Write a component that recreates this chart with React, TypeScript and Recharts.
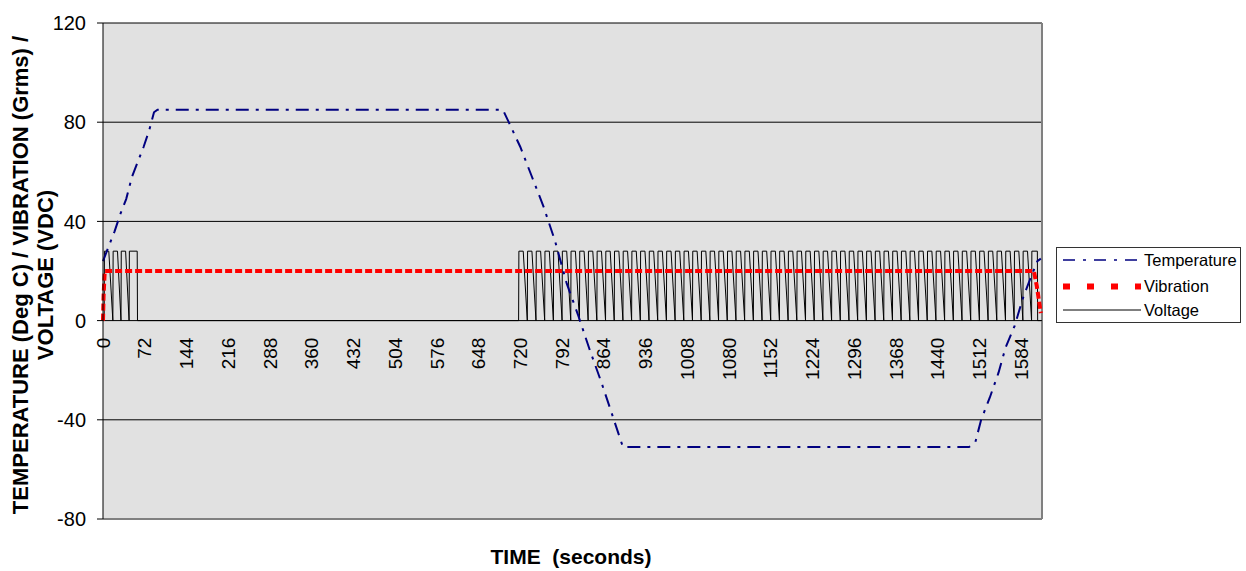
import React from "react";
import { LineChart, Line, XAxis, YAxis, CartesianGrid, ReferenceLine } from "recharts";

// chart size and plot box
const W = 1246;
const H = 571;
const TOP = 23;
const BOTTOM = 51;
const RIGHT = 204;
const Y_MIN = -80;
const Y_MAX = 120;
const T_MAX = 1620;

const timeTicks = [0, 72, 144, 216, 288, 360, 432, 504, 576, 648, 720, 792, 864, 936, 1008, 1080, 1152, 1224, 1296, 1368, 1440, 1512, 1584];
const valueTicks = [-80, -40, 0, 40, 80, 120];

// temperature profile (seconds / deg C)
const tempTimes = [0, 10, 20, 30, 40, 50, 60, 70, 80, 88, 94, 690, 700, 720, 740, 760, 780, 800, 820, 840, 860, 880, 897, 1494, 1505, 1515, 1530, 1545, 1557, 1573, 1587, 1600, 1612, 1618];
const tempValues = [24, 30, 36, 43, 49, 58, 64, 70, 77, 84, 85, 85, 80, 70, 58, 46, 32, 15, 2, -12, -25, -39, -51, -51, -49, -40, -31, -21, -11, -2, 9, 17, 24, 25];

// vibration (Grms)
const vibTimes = [0, 1, 3, 1606, 1611, 1618];
const vibValues = [0, 10, 20, 20, 14, 3];

// voltage pulses (VDC): start of each pulse
const VOLT_ON = 28;
const earlyStarts = [2, 17, 31, 45];
const earlyEnd = 59;
const lateStarts = [717, 732, 747, 762, 777, 792, 807, 822, 837, 852, 867, 882, 897, 912, 927, 942, 957, 972, 987, 1002, 1017, 1032, 1047, 1062, 1077, 1092, 1107, 1122, 1137, 1152, 1167, 1182, 1197, 1212, 1227, 1242, 1257, 1272, 1287, 1302, 1317, 1332, 1347, 1362, 1377, 1392, 1407, 1422, 1437, 1452, 1467, 1482, 1497, 1512, 1527, 1542, 1557, 1572, 1587, 1602];
const lateEnd = 1612;

const tempData = tempTimes.map((t, i) => ({ t, v: tempValues[i] }));
const vibData = vibTimes.map((t, i) => ({ t, v: vibValues[i] }));

function burst(starts: number[], end: number) {
  const pts: { t: number; v: number }[] = [];
  starts.forEach((s, i) => {
    pts.push({ t: s, v: 0 });
    pts.push({ t: s + 0.5, v: VOLT_ON });
    if (i < starts.length - 1) pts.push({ t: s + 8, v: VOLT_ON });
  });
  pts.push({ t: end, v: VOLT_ON });
  pts.push({ t: end + 0.5, v: 0 });
  return pts;
}

const voltData = [{ t: 0, v: 0 }, ...burst(earlyStarts, earlyEnd), ...burst(lateStarts, lateEnd), { t: T_MAX, v: 0 }];

const PLOT_H = H - TOP - BOTTOM - 1;
const zeroY = TOP + (PLOT_H * (Y_MAX - 0)) / (Y_MAX - Y_MIN);

const FONT = "Arial, 'Liberation Sans', sans-serif";

// eslint-disable-next-line @typescript-eslint/no-explicit-any
const renderTimeTick = (props: any) => {
  const { x, payload } = props;
  const y = zeroY + 17;
  return (
    <text key={`tt-${payload.value}`} x={x} y={y} dy="0.35em" textAnchor="end" transform={`rotate(-90, ${x}, ${y})`} fontSize={19} fontFamily={FONT} fill="#000">
      {payload.value}
    </text>
  );
};

function LegendBox() {
  const rows = [
    { name: "Temperature", y: 12, color: "#000080", width: 1.3, dash: "12 8 3 8" },
    { name: "Vibration", y: 38.5, color: "#ff0000", width: 6, dash: "7 17" },
    { name: "Voltage", y: 62, color: "#000", width: 1, dash: undefined },
  ];
  return (
    <div style={{ position: "absolute", left: 1056, top: 247, width: 183, height: 74, border: "1px solid #333", background: "#fff", overflow: "hidden" }}>
      <svg width={183} height={74}>
        {rows.map((r) => (
          <g key={r.name}>
            <line x1={6} x2={84} y1={r.y} y2={r.y} stroke={r.color} strokeWidth={r.width} strokeDasharray={r.dash} />
            <text x={87} y={r.y} dy="0.36em" fontSize={16.5} fontFamily={FONT} fill="#000">{r.name}</text>
          </g>
        ))}
      </svg>
    </div>
  );
}

export default function App() {
  return (
    <div style={{ position: "absolute", left: 0, top: 0, width: W, height: H, fontFamily: FONT, background: "#fff" }}>
      <LineChart width={W} height={H} margin={{ top: TOP, right: RIGHT, bottom: BOTTOM, left: 0 }}>
        <CartesianGrid vertical={false} stroke="#000" fill="#e1e1e1" fillOpacity={1} />
        <XAxis
          dataKey="t"
          type="number"
          domain={[0, T_MAX]}
          ticks={timeTicks}
          interval={0}
          height={1}
          tickLine={false}
          axisLine={{ stroke: "#808080", strokeWidth: 2 }}
          tick={renderTimeTick}
        />
        <YAxis
          type="number"
          domain={[Y_MIN, Y_MAX]}
          ticks={valueTicks}
          width={103}
          tickSize={6}
          tickMargin={11}
          axisLine={{ stroke: "#000" }}
          tickLine={{ stroke: "#000" }}
          tick={{ fontSize: 20, fontFamily: FONT, fill: "#000" }}
        />
        <ReferenceLine x={T_MAX} stroke="#808080" strokeWidth={2} />
        <Line data={voltData} dataKey="v" name="Voltage" type="linear" stroke="#000" strokeWidth={1} dot={false} isAnimationActive={false} />
        <Line data={vibData} dataKey="v" name="Vibration" type="linear" stroke="#ff0000" strokeWidth={4} strokeDasharray="7 3" dot={false} isAnimationActive={false} />
        <Line data={tempData} dataKey="v" name="Temperature" type="linear" stroke="#000080" strokeWidth={2} strokeDasharray="13 7 3 7" dot={false} isAnimationActive={false} />
      </LineChart>

      <div
        style={{
          position: "absolute",
          left: 33 - 300,
          top: 275 - 25,
          width: 600,
          height: 50,
          lineHeight: "25px",
          textAlign: "center",
          fontWeight: "bold",
          fontSize: 22,
          transform: "rotate(-90deg)",
          whiteSpace: "nowrap",
        }}
      >
        <div>TEMPERATURE (Deg C) / VIBRATION (Grms) /</div>
        <div>VOLTAGE (VDC)</div>
      </div>

      <div style={{ position: "absolute", left: 371, top: 545, width: 400, textAlign: "center", fontWeight: "bold", fontSize: 21, whiteSpace: "pre" }}>
        TIME  (seconds)
      </div>

      <LegendBox />
    </div>
  );
}
